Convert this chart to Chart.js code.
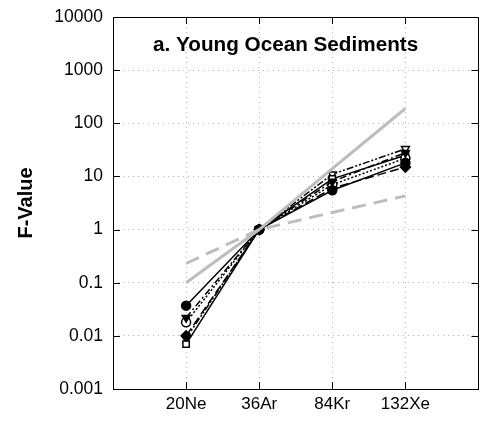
<!DOCTYPE html>
<html>
<head>
<meta charset="utf-8">
<script src="https://cdn.jsdelivr.net/npm/chart.js@4.4.1/dist/chart.umd.min.js"></script>
<style>
  html, body { margin: 0; padding: 0; background: #fff; }
</style>
</head>
<body>
<canvas id="chart" width="485" height="421"></canvas>
<script>
// isotopes along the x axis
const categories = ['20Ne', '36Ar', '84Kr', '132Xe'];
const yTickValues = [0.001, 0.01, 0.1, 1, 10, 100, 1000, 10000];
const yTickLabels = ['0.001', '0.01', '0.1', '1', '10', '100', '1000', '10000'];

// black sample curves
const fillCircle = [0.037, 1, 5.5, 18];
const fillTriangle = [0.022, 1, 8, 28];
const openCircle = [0.018, 1, 7, 22];
const fillDiamond = [0.010, 1, 6, 15];
const openSquare = [0.007, 1, 9, 25];
const openTriangle = [0.009, 1, 11, 33];
// gray reference curves
const graySolid = [0.1, 1, 14, 190];
const grayDashed = [0.23, 1, 2.1, 4.3];

const font = '"Liberation Sans", Arial, sans-serif';

function pts(vals) {
  return vals.map((v, i) => ({ x: i + 1, y: v }));
}

function sample(label, vals, style, filled, dash, rot) {
  return {
    label: label,
    data: pts(vals),
    borderColor: '#000',
    borderWidth: 1.5,
    borderDash: dash,
    pointStyle: style,
    pointRotation: rot || 0,
    pointRadius: style === 'rectRot' ? 5 : 4.5,
    pointBorderWidth: 1.5,
    pointBorderColor: '#000',
    pointBackgroundColor: filled ? '#000' : '#fff',
    tension: 0
  };
}

const datasets = [
  {
    label: 'gray solid',
    data: pts(graySolid),
    borderColor: '#bdbdbd',
    borderWidth: 3,
    pointRadius: 0,
    tension: 0
  },
  {
    label: 'gray dashed',
    data: pts(grayDashed),
    borderColor: '#bdbdbd',
    borderWidth: 3,
    borderDash: [14, 8],
    pointRadius: 0,
    tension: 0
  },
  sample('A', fillCircle, 'circle', true, []),
  sample('B', fillTriangle, 'triangle', true, [7, 3, 2, 3], 180),
  sample('C', openCircle, 'circle', false, [2, 2]),
  sample('D', fillDiamond, 'rectRot', true, [9, 4]),
  sample('E', openSquare, 'rect', false, []),
  sample('F', openTriangle, 'triangle', false, [7, 2, 2, 2, 2, 2], 180)
];

// box + inward ticks + panel title
const framePlugin = {
  id: 'frame',
  afterDraw(chart) {
    const ctx = chart.ctx;
    const a = chart.chartArea;
    const xs = chart.scales.x;
    const ys = chart.scales.y;
    ctx.save();
    ctx.strokeStyle = '#000';
    ctx.lineWidth = 1;
    ctx.setLineDash([]);
    ctx.strokeRect(Math.round(a.left) + 0.5, Math.round(a.top) + 0.5,
      Math.round(a.right - a.left) - 1, Math.round(a.bottom - a.top));
    ctx.beginPath();
    yTickValues.forEach(v => {
      const y = Math.round(ys.getPixelForValue(v)) + 0.5;
      ctx.moveTo(a.left, y); ctx.lineTo(a.left + 7, y);
      ctx.moveTo(a.right, y); ctx.lineTo(a.right - 7, y);
    });
    categories.forEach((c, i) => {
      const x = Math.round(xs.getPixelForValue(i + 1)) + 0.5;
      ctx.moveTo(x, a.bottom); ctx.lineTo(x, a.bottom - 7);
      ctx.moveTo(x, a.top); ctx.lineTo(x, a.top + 7);
    });
    ctx.stroke();
    ctx.fillStyle = '#000';
    ctx.font = 'bold 20.7px ' + font;
    ctx.textAlign = 'left';
    ctx.textBaseline = 'middle';
    ctx.fillText('a. Young Ocean Sediments', a.left + 40, 45);
    ctx.restore();
  }
};

new Chart(document.getElementById('chart'), {
  type: 'line',
  data: { datasets: datasets },
  options: {
    responsive: false,
    animation: false,
    devicePixelRatio: 1,
    layout: { padding: { left: 9, right: 1, top: 17, bottom: 0 } },
    scales: {
      x: {
        type: 'linear',
        min: 0,
        max: 5,
        afterBuildTicks: s => { s.ticks = categories.map((c, i) => ({ value: i + 1 })); },
        afterFit: s => { s.height = 32; s.paddingLeft = 0; s.paddingRight = 0; },
        ticks: {
          callback: v => categories[v - 1],
          color: '#000',
          font: { family: font, size: 17 },
          padding: 5,
          maxRotation: 0
        },
        grid: { color: '#b5b5b5', drawTicks: false },
        border: { display: false, dash: [1, 4] }
      },
      y: {
        type: 'logarithmic',
        min: 0.001,
        max: 10000,
        afterBuildTicks: s => { s.ticks = yTickValues.map(v => ({ value: v })); },
        afterFit: s => { s.width = 104; s.paddingTop = 0; s.paddingBottom = 0; },
        ticks: {
          callback: (v, i) => yTickLabels[i],
          color: '#000',
          font: { family: font, size: 17.5 },
          padding: 10
        },
        grid: { color: '#b5b5b5', drawTicks: false },
        border: { display: false, dash: [1, 4] },
        title: {
          display: true,
          text: 'F-Value',
          color: '#000',
          font: { family: font, size: 20, weight: 'bold' },
          padding: { top: 5, bottom: 0 }
        }
      }
    },
    plugins: {
      legend: { display: false },
      tooltip: { enabled: false }
    }
  },
  plugins: [framePlugin]
});
</script>
</body>
</html>
